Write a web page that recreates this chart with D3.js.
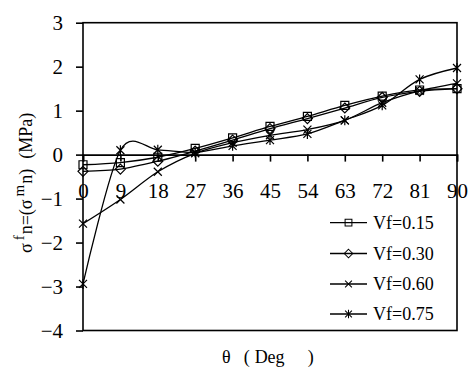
<!DOCTYPE html>
<html><head><meta charset="utf-8">
<script src="https://cdn.jsdelivr.net/npm/d3@7"></script>
<style>
html,body{margin:0;padding:0;background:#fff;}
svg{display:block;}
svg text, svg tspan{font-family:"Liberation Serif","Times New Roman",Tinos,Times,serif !important;}
</style></head>
<body><svg id="c" width="469" height="369"></svg>
<script>
const theta = [0, 9, 18, 27, 36, 45, 54, 63, 72, 81, 90];
const yTicks = [-4, -3, -2, -1, 0, 1, 2, 3];
const seriesNames = ["Vf=0.15", "Vf=0.30", "Vf=0.60", "Vf=0.75"];
const vf015 = [-0.23, -0.18, -0.06, 0.14, 0.38, 0.64, 0.87, 1.12, 1.33, 1.47, 1.50];
const vf030 = [-0.38, -0.33, -0.15, 0.08, 0.33, 0.59, 0.82, 1.06, 1.30, 1.44, 1.50];
const vf060 = [-1.57, -1.02, -0.39, 0.03, 0.27, 0.44, 0.57, 0.78, 1.18, 1.45, 1.62];
const vf075 = [-2.94, 0.10, 0.11, 0.05, 0.20, 0.33, 0.47, 0.78, 1.12, 1.71, 1.97];
const markers = ["square", "diamond", "cross", "star"];

const FAM = "Liberation Serif";
const seriesValues = [vf015, vf030, vf060, vf075];
const svg = d3.select("#c");
const x = d3.scaleLinear().domain([0, 90]).range([83, 457]);
const y = d3.scaleLinear().domain([-4, 3]).range([330.5, 22.7]);

// frame
svg.append("rect").attr("x", x(0)).attr("y", y(3)).attr("width", x(90) - x(0)).attr("height", y(-4) - y(3))
  .attr("fill", "none").attr("stroke", "#000").attr("stroke-width", 1.6);

// y axis
const ya = svg.append("g").attr("transform", `translate(${x(0)},0)`)
  .call(d3.axisLeft(y).tickValues(yTicks).tickSize(7).tickPadding(13).tickFormat(d3.format("d")));
ya.attr("font-family", FAM).attr("font-size", 21);
ya.select(".domain").remove();
ya.selectAll("line").attr("stroke", "#000").attr("stroke-width", 1.6);
ya.selectAll("text").attr("fill", "#000");

// x axis at y=0
const xa = svg.append("g").attr("transform", `translate(0,${y(0)})`)
  .call(d3.axisBottom(x).tickValues(theta).tickSize(7).tickPadding(21).tickFormat(d3.format("d")));
xa.attr("font-family", FAM).attr("font-size", 21);
xa.select(".domain").attr("stroke", "#000").attr("stroke-width", 1.6);
xa.selectAll("line").attr("stroke", "#000").attr("stroke-width", 1.6);
xa.selectAll("text").attr("fill", "#000");

function markerPath(type) {
  const s = 4;
  if (type === "square") return `M${-s},${-s}H${s}V${s}H${-s}Z`;
  if (type === "diamond") return `M0,${-s - 1}L${s + 1},0L0,${s + 1}L${-s - 1},0Z`;
  if (type === "cross") return `M${-s},${-s}L${s},${s}M${-s},${s}L${s},${-s}`;
  return `M${-s},${-s}L${s},${s}M${-s},${s}L${s},${-s}M0,${-s - 1}V${s + 1}`;
}

const line = d3.line().x((d, i) => x(theta[i])).y(d => y(d)).curve(d3.curveCardinal.tension(0.1));

seriesValues.forEach((vals, si) => {
  svg.append("path").attr("d", line(vals)).attr("fill", "none").attr("stroke", "#000").attr("stroke-width", 1.3);
  svg.append("g").selectAll("path").data(vals).join("path")
    .attr("transform", (d, i) => `translate(${x(theta[i])},${y(d)})`)
    .attr("d", markerPath(markers[si]))
    .attr("fill", "none").attr("stroke", "#000").attr("stroke-width", 1.2);
});

// legend
const lg = svg.append("g").attr("font-family", FAM);
const legY = [222.7, 253.5, 284, 314];
seriesNames.forEach((nm, i) => {
  const g = lg.append("g").attr("transform", `translate(0,${legY[i]})`);
  g.append("line").attr("x1", 330).attr("x2", 367).attr("y1", 0).attr("y2", 0).attr("stroke", "#000").attr("stroke-width", 1.3);
  g.append("path").attr("transform", "translate(348.5,0) scale(0.85)").attr("d", markerPath(markers[i]))
    .attr("fill", "none").attr("stroke", "#000").attr("stroke-width", 1.2);
  g.append("text").attr("x", 373).attr("y", 6.3).attr("font-size", 18).attr("fill", "#000").text(nm);
});

// x title
const xt = svg.append("text").attr("x", 222).attr("y", 363).attr("font-size", 18).attr("font-family", FAM).attr("fill", "#000");
xt.append("tspan").text("θ");
xt.append("tspan").attr("dx", 13).text("(");
xt.append("tspan").attr("dx", 5).text("Deg");
xt.append("tspan").attr("dx", 23).text(")");

// y title
const yt = svg.append("text").attr("transform", "translate(32,253) rotate(-90)")
  .attr("font-size", 18).attr("font-family", FAM).attr("fill", "#000");
yt.append("tspan").text("σ");
yt.append("tspan").attr("dy", -8).attr("dx", 3).attr("font-size", 15).text("f");
yt.append("tspan").attr("dy", 8).attr("dx", 1).text("n=(σ");
yt.append("tspan").attr("dy", -8).attr("dx", 3).attr("font-size", 15).text("m");
yt.append("tspan").attr("dy", 8).attr("dx", 1).text("n)");
yt.append("tspan").attr("dx", 10).text("(MPa)");
</script></body></html>
